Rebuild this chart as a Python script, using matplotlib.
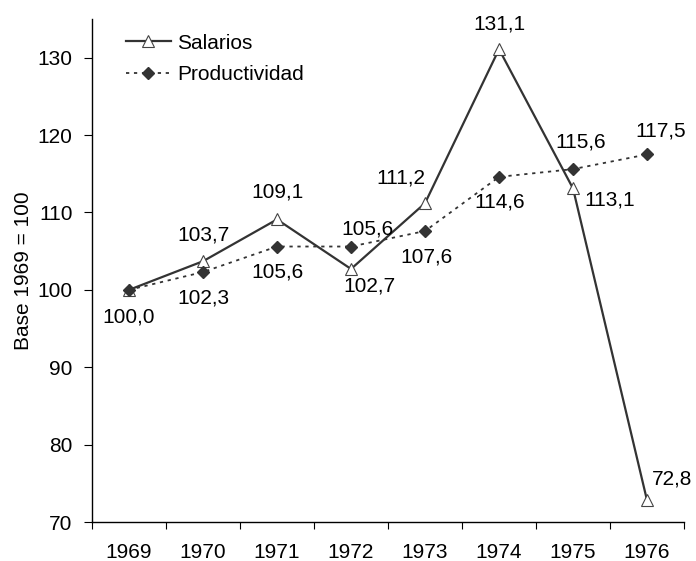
import matplotlib
matplotlib.use("Agg")
import matplotlib.pyplot as plt
import matplotlib.ticker as mticker
import numpy as np

plt.rcParams['font.family'] = ['Liberation Sans', 'DejaVu Sans']

years = ['1969', '1970', '1971', '1972', '1973', '1974', '1975', '1976']
salarios = [100.0, 103.7, 109.1, 102.7, 111.2, 131.1, 113.1, 72.8]
productividad = [100.0, 102.3, 105.6, 105.6, 107.6, 114.6, 115.6, 117.5]

# label offsets in pixels (dx, dy up)
sal_off = [(0, -27), (0, 26), (0, 27), (18, -17), (-24, 25), (0, 25), (37, -12), (25, 21)]
prod_off = [None, (0, -26), (0, -25), (16, 18), (1, -26), (1, -25), (8, 27), (14, 23)]

FS = 15

def fmt(v):
    return '{0:.1f}'.format(v).replace('.', ',')

fig = plt.figure(figsize=(6.96, 5.61), dpi=100)
ax = fig.add_axes([0.1322, 0.0695, 0.8506, 0.8966])

x = np.arange(len(years))
ax.plot(x, salarios, color='#333333', lw=1.6, marker='^', markersize=8,
        markerfacecolor='white', markeredgecolor='#444444', markeredgewidth=0.8,
        label='Salarios', zorder=3)
ax.plot(x, productividad, color='#333333', lw=1.3, linestyle=(0, (1.8, 2.6)),
        marker='D', markersize=6.5, markerfacecolor='#333333',
        markeredgecolor='#333333', label='Productividad', zorder=4)

for xi, v, off in zip(x, salarios, sal_off):
    ax.annotate(fmt(v), (xi, v), xytext=off, textcoords='offset pixels',
                ha='center', va='center', fontsize=FS)
for xi, v, off in zip(x, productividad, prod_off):
    if off is None:
        continue
    ax.annotate(fmt(v), (xi, v), xytext=off, textcoords='offset pixels',
                ha='center', va='center', fontsize=FS)

ax.set_xlim(-0.5, len(years) - 0.5)
ax.set_ylim(70, 135)
ax.set_yticks([70, 80, 90, 100, 110, 120, 130])
ax.set_xticks(x)
ax.set_xticklabels(years)
ax.xaxis.set_minor_locator(mticker.FixedLocator(np.arange(-0.5, len(years), 1.0)))
ax.tick_params(axis='x', which='major', length=0, labelsize=FS, pad=15)
ax.tick_params(axis='x', which='minor', length=5, width=0.8, direction='out')
ax.tick_params(axis='y', length=6, width=0.8, labelsize=FS, pad=8)

ax.spines['top'].set_visible(False)
ax.spines['right'].set_visible(False)
ax.spines['left'].set_linewidth(1.0)
ax.spines['bottom'].set_linewidth(1.0)

ax.set_ylabel('Base 1969 = 100', fontsize=FS, labelpad=3)

ax.legend(loc='upper left', bbox_to_anchor=(0.057, 0.971), frameon=False,
          fontsize=FS, borderpad=0, borderaxespad=0, handlelength=2.15,
          handletextpad=0.3, labelspacing=0.6)

fig.savefig('out.png', dpi=100)
